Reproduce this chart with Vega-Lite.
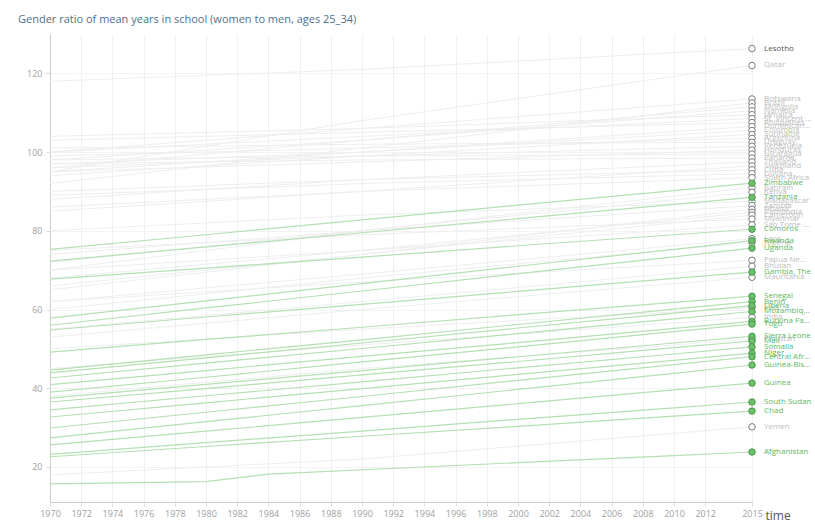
{
  "$schema": "https://vega.github.io/schema/vega-lite/v6.json",
  "width": 702,
  "height": 468,
  "autosize": {"type": "none"},
  "padding": {"left": 50, "top": 34, "right": 63, "bottom": 21},
  "background": "white",
  "config": {"view": {"stroke": null}, "font": "Open Sans"},
  "title": {
    "text": "Gender ratio of mean years in school (women to men, ages 25_34)",
    "anchor": "start", "frame": "group", "dx": -32, "offset": 9,
    "fontSize": 11, "font": "Open Sans", "fontWeight": "normal", "color": "#4a7290"
  },
  "datasets": {
    "green": [
      {"c":"Zimbabwe","t":1970,"v":75.3},{"c":"Zimbabwe","t":1980,"v":79.0},{"c":"Zimbabwe","t":1990,"v":82.8},{"c":"Zimbabwe","t":2000,"v":86.5},{"c":"Zimbabwe","t":2010,"v":90.2},{"c":"Zimbabwe","t":2015,"v":92.1},
      {"c":"Tanzania","t":1970,"v":72.3},{"c":"Tanzania","t":1980,"v":75.9},{"c":"Tanzania","t":1990,"v":79.5},{"c":"Tanzania","t":2000,"v":83.1},{"c":"Tanzania","t":2010,"v":86.7},{"c":"Tanzania","t":2015,"v":88.5},
      {"c":"Comoros","t":1970,"v":67.7},{"c":"Comoros","t":1980,"v":70.5},{"c":"Comoros","t":1990,"v":73.3},{"c":"Comoros","t":2000,"v":76.2},{"c":"Comoros","t":2010,"v":79.0},{"c":"Comoros","t":2015,"v":80.4},
      {"c":"Rwanda","t":1970,"v":57.8},{"c":"Rwanda","t":1980,"v":62.2},{"c":"Rwanda","t":1990,"v":66.6},{"c":"Rwanda","t":2000,"v":71.0},{"c":"Rwanda","t":2010,"v":75.3},{"c":"Rwanda","t":2015,"v":77.5},
      {"c":"Uganda","t":1970,"v":56.0},{"c":"Uganda","t":1980,"v":60.4},{"c":"Uganda","t":1990,"v":64.7},{"c":"Uganda","t":2000,"v":69.1},{"c":"Uganda","t":2010,"v":73.4},{"c":"Uganda","t":2015,"v":75.6},
      {"c":"Gambia, The","t":1970,"v":54.8},{"c":"Gambia, The","t":1980,"v":58.1},{"c":"Gambia, The","t":1990,"v":61.3},{"c":"Gambia, The","t":2000,"v":64.6},{"c":"Gambia, The","t":2010,"v":67.9},{"c":"Gambia, The","t":2015,"v":69.5},
      {"c":"Senegal","t":1970,"v":49.2},{"c":"Senegal","t":1980,"v":52.4},{"c":"Senegal","t":1990,"v":55.5},{"c":"Senegal","t":2000,"v":58.7},{"c":"Senegal","t":2010,"v":61.8},{"c":"Senegal","t":2015,"v":63.4},
      {"c":"Benin","t":1970,"v":44.6},{"c":"Benin","t":1980,"v":48.5},{"c":"Benin","t":1990,"v":52.3},{"c":"Benin","t":2000,"v":56.2},{"c":"Benin","t":2010,"v":60.1},{"c":"Benin","t":2015,"v":62.0},
      {"c":"Liberia","t":1970,"v":43.9},{"c":"Liberia","t":1980,"v":47.7},{"c":"Liberia","t":1990,"v":51.5},{"c":"Liberia","t":2000,"v":55.3},{"c":"Liberia","t":2010,"v":59.1},{"c":"Liberia","t":2015,"v":61.0},
      {"c":"Mozambique","t":1970,"v":42.6},{"c":"Mozambique","t":1980,"v":46.4},{"c":"Mozambique","t":1990,"v":50.1},{"c":"Mozambique","t":2000,"v":53.9},{"c":"Mozambique","t":2010,"v":57.6},{"c":"Mozambique","t":2015,"v":59.5},
      {"c":"Burkina Faso","t":1970,"v":40.9},{"c":"Burkina Faso","t":1980,"v":44.5},{"c":"Burkina Faso","t":1990,"v":48.1},{"c":"Burkina Faso","t":2000,"v":51.6},{"c":"Burkina Faso","t":2010,"v":55.2},{"c":"Burkina Faso","t":2015,"v":57.0},
      {"c":"Togo","t":1970,"v":39.0},{"c":"Togo","t":1980,"v":42.8},{"c":"Togo","t":1990,"v":46.7},{"c":"Togo","t":2000,"v":50.5},{"c":"Togo","t":2010,"v":54.4},{"c":"Togo","t":2015,"v":56.3},
      {"c":"Sierra Leone","t":1970,"v":37.5},{"c":"Sierra Leone","t":1980,"v":41.0},{"c":"Sierra Leone","t":1990,"v":44.5},{"c":"Sierra Leone","t":2000,"v":48.0},{"c":"Sierra Leone","t":2010,"v":51.5},{"c":"Sierra Leone","t":2015,"v":53.2},
      {"c":"Mali","t":1970,"v":36.5},{"c":"Mali","t":1980,"v":39.9},{"c":"Mali","t":1990,"v":43.4},{"c":"Mali","t":2000,"v":46.8},{"c":"Mali","t":2010,"v":50.3},{"c":"Mali","t":2015,"v":52.0},
      {"c":"Somalia","t":1970,"v":34.5},{"c":"Somalia","t":1980,"v":38.1},{"c":"Somalia","t":1990,"v":41.6},{"c":"Somalia","t":2000,"v":45.2},{"c":"Somalia","t":2010,"v":48.7},{"c":"Somalia","t":2015,"v":50.5},
      {"c":"Niger","t":1970,"v":32.7},{"c":"Niger","t":1980,"v":36.3},{"c":"Niger","t":1990,"v":39.9},{"c":"Niger","t":2000,"v":43.5},{"c":"Niger","t":2010,"v":47.1},{"c":"Niger","t":2015,"v":48.9},
      {"c":"Central African Republic","t":1970,"v":29.9},{"c":"Central African Republic","t":1980,"v":33.9},{"c":"Central African Republic","t":1990,"v":37.9},{"c":"Central African Republic","t":2000,"v":42.0},{"c":"Central African Republic","t":2010,"v":46.0},{"c":"Central African Republic","t":2015,"v":48.0},
      {"c":"Guinea-Bissau","t":1970,"v":27.4},{"c":"Guinea-Bissau","t":1980,"v":31.5},{"c":"Guinea-Bissau","t":1990,"v":35.6},{"c":"Guinea-Bissau","t":2000,"v":39.7},{"c":"Guinea-Bissau","t":2010,"v":43.8},{"c":"Guinea-Bissau","t":2015,"v":45.9},
      {"c":"Guinea","t":1970,"v":25.6},{"c":"Guinea","t":1980,"v":29.1},{"c":"Guinea","t":1990,"v":32.6},{"c":"Guinea","t":2000,"v":36.1},{"c":"Guinea","t":2010,"v":39.6},{"c":"Guinea","t":2015,"v":41.3},
      {"c":"South Sudan","t":1970,"v":23.2},{"c":"South Sudan","t":1980,"v":26.2},{"c":"South Sudan","t":1990,"v":29.1},{"c":"South Sudan","t":2000,"v":32.1},{"c":"South Sudan","t":2010,"v":35.0},{"c":"South Sudan","t":2015,"v":36.5},
      {"c":"Chad","t":1970,"v":22.6},{"c":"Chad","t":1980,"v":25.2},{"c":"Chad","t":1990,"v":27.8},{"c":"Chad","t":2000,"v":30.3},{"c":"Chad","t":2010,"v":32.9},{"c":"Chad","t":2015,"v":34.2},
      {"c":"Afghanistan","t":1970,"v":15.7},{"c":"Afghanistan","t":1980,"v":16.3},{"c":"Afghanistan","t":1984,"v":18.2},{"c":"Afghanistan","t":2000,"v":21.1},{"c":"Afghanistan","t":2010,"v":22.9},{"c":"Afghanistan","t":2015,"v":23.8}
    ],
    "grey": [
      {"c":"Lesotho","t":1970,"v":118},{"c":"Lesotho","t":1990,"v":121},{"c":"Lesotho","t":2015,"v":126.3},
      {"c":"Qatar","t":1970,"v":95},{"c":"Qatar","t":1990,"v":108},{"c":"Qatar","t":2015,"v":122},
      {"c":"Botswana","t":1970,"v":100},{"c":"Botswana","t":1990,"v":106},{"c":"Botswana","t":2015,"v":113.5},
      {"c":"Brazil","t":1970,"v":92},{"c":"Brazil","t":1990,"v":101},{"c":"Brazil","t":2015,"v":112.5},
      {"c":"Mongolia","t":1970,"v":96},{"c":"Mongolia","t":1990,"v":103},{"c":"Mongolia","t":2015,"v":111.5},
      {"c":"Namibia","t":1970,"v":98},{"c":"Namibia","t":1990,"v":103},{"c":"Namibia","t":2015,"v":110.5},
      {"c":"Jamaica","t":1970,"v":104},{"c":"Jamaica","t":1990,"v":106},{"c":"Jamaica","t":2015,"v":109.5},
      {"c":"St. Vincent and the Grenadines","t":1970,"v":100},{"c":"St. Vincent and the Grenadines","t":1990,"v":104},{"c":"St. Vincent and the Grenadines","t":2015,"v":108.5},
      {"c":"Philippines","t":1970,"v":103},{"c":"Philippines","t":1990,"v":105},{"c":"Philippines","t":2015,"v":107.5},
      {"c":"Dominican Republic","t":1970,"v":95},{"c":"Dominican Republic","t":1990,"v":100},{"c":"Dominican Republic","t":2015,"v":106.5},
      {"c":"Colombia","t":1970,"v":97},{"c":"Colombia","t":1990,"v":100},{"c":"Colombia","t":2015,"v":105.5},
      {"c":"Suriname","t":1970,"v":94},{"c":"Suriname","t":1990,"v":99},{"c":"Suriname","t":2015,"v":104.5},
      {"c":"Argentina","t":1970,"v":99},{"c":"Argentina","t":1990,"v":101},{"c":"Argentina","t":2015,"v":103.5},
      {"c":"Uruguay","t":1970,"v":101},{"c":"Uruguay","t":1990,"v":102},{"c":"Uruguay","t":2015,"v":102.5},
      {"c":"Venezuela","t":1970,"v":96},{"c":"Venezuela","t":1990,"v":99},{"c":"Venezuela","t":2015,"v":101.5},
      {"c":"Honduras","t":1970,"v":95},{"c":"Honduras","t":1990,"v":97.5},{"c":"Honduras","t":2015,"v":100.5},
      {"c":"Nicaragua","t":1970,"v":98},{"c":"Nicaragua","t":1990,"v":99},{"c":"Nicaragua","t":2015,"v":99.5},
      {"c":"Panama","t":1970,"v":97},{"c":"Panama","t":1990,"v":98},{"c":"Panama","t":2015,"v":98.5},
      {"c":"Thailand","t":1970,"v":88},{"c":"Thailand","t":1990,"v":93},{"c":"Thailand","t":2015,"v":97.5},
      {"c":"Swaziland","t":1970,"v":85},{"c":"Swaziland","t":1990,"v":90},{"c":"Swaziland","t":2015,"v":96.5},
      {"c":"Cuba","t":1970,"v":90},{"c":"Cuba","t":1990,"v":93},{"c":"Cuba","t":2015,"v":95.5},
      {"c":"Guyana","t":1970,"v":89},{"c":"Guyana","t":1990,"v":92},{"c":"Guyana","t":2015,"v":94.5},
      {"c":"South Africa","t":1970,"v":86},{"c":"South Africa","t":1990,"v":90},{"c":"South Africa","t":2015,"v":93.5},
      {"c":"Bahrain","t":1970,"v":70},{"c":"Bahrain","t":1990,"v":80},{"c":"Bahrain","t":2015,"v":91},
      {"c":"Kenya","t":1970,"v":72},{"c":"Kenya","t":1990,"v":80},{"c":"Kenya","t":2015,"v":89.8},
      {"c":"Madagascar","t":1970,"v":80},{"c":"Madagascar","t":1990,"v":84},{"c":"Madagascar","t":2015,"v":87.5},
      {"c":"Zambia","t":1970,"v":74},{"c":"Zambia","t":1990,"v":80},{"c":"Zambia","t":2015,"v":86.4},
      {"c":"Ghana","t":1970,"v":65},{"c":"Ghana","t":1990,"v":74},{"c":"Ghana","t":2015,"v":85.5},
      {"c":"Cambodia","t":1970,"v":68},{"c":"Cambodia","t":1990,"v":75},{"c":"Cambodia","t":2015,"v":84.7},
      {"c":"Cameroon","t":1970,"v":66},{"c":"Cameroon","t":1990,"v":74},{"c":"Cameroon","t":2015,"v":84},
      {"c":"Myanmar","t":1970,"v":75},{"c":"Myanmar","t":1990,"v":79},{"c":"Myanmar","t":2015,"v":83},
      {"c":"Sao Tome and Principe","t":1970,"v":70},{"c":"Sao Tome and Principe","t":1990,"v":75},{"c":"Sao Tome and Principe","t":2015,"v":81.5},
      {"c":"Laos","t":1970,"v":62},{"c":"Laos","t":1990,"v":69},{"c":"Laos","t":2015,"v":78},
      {"c":"Nigeria","t":1970,"v":60},{"c":"Nigeria","t":1990,"v":68},{"c":"Nigeria","t":2015,"v":77},
      {"c":"Papua New Guinea","t":1970,"v":62},{"c":"Papua New Guinea","t":1990,"v":67},{"c":"Papua New Guinea","t":2015,"v":72.5},
      {"c":"Bhutan","t":1970,"v":55},{"c":"Bhutan","t":1990,"v":62},{"c":"Bhutan","t":2015,"v":71},
      {"c":"Mauritania","t":1970,"v":53},{"c":"Mauritania","t":1990,"v":60},{"c":"Mauritania","t":2015,"v":68.2},
      {"c":"Iraq","t":1970,"v":50},{"c":"Iraq","t":1990,"v":55},{"c":"Iraq","t":2015,"v":60.5},
      {"c":"India","t":1970,"v":45},{"c":"India","t":1990,"v":51},{"c":"India","t":2015,"v":58},
      {"c":"Pakistan","t":1970,"v":38},{"c":"Pakistan","t":1990,"v":45},{"c":"Pakistan","t":2015,"v":52.5},
      {"c":"Yemen","t":1970,"v":18},{"c":"Yemen","t":1990,"v":22},{"c":"Yemen","t":2015,"v":30.2}
    ]
  },
  "encoding": {
    "x": {
      "field": "t", "type": "quantitative",
      "scale": {"domain": [1970, 2015], "nice": false, "zero": false},
      "axis": {
        "values": [1970,1972,1974,1976,1978,1980,1982,1984,1986,1988,1990,1992,1994,1996,1998,2000,2002,2004,2006,2008,2010,2012,2015],
        "format": "d", "labelFontSize": 9, "labelColor": "#a0a0a0", "labelPadding": 3,
        "labelFlush": false, "labelOverlap": false,
        "tickSize": 4, "tickColor": "#dddddd", "domainColor": "#cccccc",
        "grid": true, "gridColor": "#f0f0f0",
        "title": "time", "titleX": 715, "titleY": 17, "titleAlign": "left", "titleBaseline": "alphabetic",
        "titleFontSize": 12, "titleFontWeight": "normal", "titleColor": "#555555"
      }
    },
    "y": {
      "field": "v", "type": "quantitative",
      "scale": {"domain": [11.1, 130], "nice": false, "zero": false},
      "axis": {
        "values": [20, 40, 60, 80, 100, 120],
        "labelFontSize": 9, "labelColor": "#a0a0a0", "labelPadding": 4,
        "labelFlush": false,
        "tickSize": 4, "tickColor": "#dddddd", "domainColor": "#cccccc",
        "grid": true, "gridColor": "#f3f3f3", "title": null
      }
    }
  },
  "layer": [
    {
      "data": {"name": "grey"},
      "mark": {"type": "line", "color": "#eeeeee", "strokeWidth": 1},
      "encoding": {"detail": {"field": "c"}}
    },
    {
      "data": {"name": "green"},
      "mark": {"type": "line", "color": "#b4e0b2", "strokeWidth": 1.2},
      "encoding": {"detail": {"field": "c"}}
    },
    {
      "data": {"name": "grey"},
      "transform": [{"filter": "datum.t == 2015"}],
      "mark": {"type": "point", "shape": "circle", "filled": true, "fill": "white", "stroke": "#7a7a7a", "strokeWidth": 1, "size": 42, "opacity": 1}
    },
    {
      "data": {"name": "green"},
      "transform": [{"filter": "datum.t == 2015"}],
      "mark": {"type": "point", "shape": "circle", "filled": true, "fill": "#6dbf6d", "stroke": "#479a47", "strokeWidth": 1, "size": 42, "opacity": 1}
    },
    {
      "data": {"name": "grey"},
      "transform": [{"filter": "datum.t == 2015"}],
      "mark": {"type": "text", "align": "left", "baseline": "middle", "dx": 12, "fontSize": 8, "limit": 48, "color": "#bdbdbd"},
      "encoding": {
        "text": {"field": "c"},
        "color": {"condition": {"test": "datum.c == 'Lesotho'", "value": "#555555"}, "value": "#bdbdbd"}
      }
    },
    {
      "data": {"name": "green"},
      "transform": [{"filter": "datum.t == 2015"}],
      "mark": {"type": "text", "align": "left", "baseline": "middle", "dx": 12, "fontSize": 8, "limit": 48, "color": "#5cb85c"},
      "encoding": {"text": {"field": "c"}}
    }
  ]
}
